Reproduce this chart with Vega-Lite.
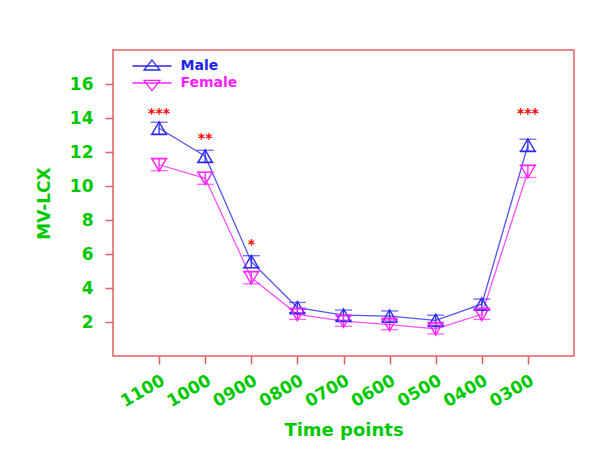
{
  "$schema": "https://vega.github.io/schema/vega-lite/v6.json",
  "autosize": "none",
  "padding": {"left": 113, "top": 50, "right": 39, "bottom": 104},
  "width": 461,
  "height": 306,
  "background": "white",
  "config": {
    "view": {"stroke": "#e06060", "strokeWidth": 1.5},
    "font": "DejaVu Sans"
  },
  "datasets": {
    "main": [
      {"time": "1100", "sex": "Male", "value": 13.4, "err": 0.35},
      {"time": "1000", "sex": "Male", "value": 11.75, "err": 0.35},
      {"time": "0900", "sex": "Male", "value": 5.55, "err": 0.35},
      {"time": "0800", "sex": "Male", "value": 2.85, "err": 0.3},
      {"time": "0700", "sex": "Male", "value": 2.4, "err": 0.3},
      {"time": "0600", "sex": "Male", "value": 2.35, "err": 0.3},
      {"time": "0500", "sex": "Male", "value": 2.1, "err": 0.3},
      {"time": "0400", "sex": "Male", "value": 3.05, "err": 0.3},
      {"time": "0300", "sex": "Male", "value": 12.4, "err": 0.35},
      {"time": "1100", "sex": "Female", "value": 11.25, "err": 0.35},
      {"time": "1000", "sex": "Female", "value": 10.45, "err": 0.35},
      {"time": "0900", "sex": "Female", "value": 4.6, "err": 0.35},
      {"time": "0800", "sex": "Female", "value": 2.45, "err": 0.3},
      {"time": "0700", "sex": "Female", "value": 2.05, "err": 0.3},
      {"time": "0600", "sex": "Female", "value": 1.85, "err": 0.3},
      {"time": "0500", "sex": "Female", "value": 1.6, "err": 0.3},
      {"time": "0400", "sex": "Female", "value": 2.45, "err": 0.3},
      {"time": "0300", "sex": "Female", "value": 10.85, "err": 0.35}
    ],
    "stars": [
      {"time": "1100", "value": 14.4, "label": "***"},
      {"time": "1000", "value": 12.95, "label": "**"},
      {"time": "0900", "value": 6.7, "label": "*"},
      {"time": "0300", "value": 14.4, "label": "***"}
    ]
  },
  "encoding": {
    "x": {
      "field": "time",
      "type": "ordinal",
      "sort": null,
      "scale": {"type": "point", "padding": 1, "domain": ["1100","1000","0900","0800","0700","0600","0500","0400","0300"]},
      "axis": {
        "title": "Time points",
        "titleColor": "#00c800",
        "titleFontSize": 18,
        "titleFontWeight": "bold",
        "titlePadding": 12,
        "labelColor": "#00c800",
        "labelFontSize": 17,
        "labelFontWeight": "bold",
        "labelAngle": -30,
        "labelAlign": "right",
        "labelBaseline": "top",
        "labelPadding": 8,
        "domain": false,
        "grid": false,
        "tickColor": "#e06060",
        "tickSize": 8,
        "tickWidth": 1.5
      }
    },
    "y": {
      "field": "value",
      "type": "quantitative",
      "scale": {"domain": [0, 18], "nice": false},
      "axis": {
        "title": "MV-LCX",
        "titleColor": "#00c800",
        "titleFontSize": 17,
        "titleFontWeight": "bold",
        "titlePadding": 16,
        "labelColor": "#00c800",
        "labelFontSize": 17,
        "labelFontWeight": "bold",
        "labelPadding": 12,
        "values": [2, 4, 6, 8, 10, 12, 14, 16],
        "domain": false,
        "grid": false,
        "tickColor": "#e06060",
        "tickSize": 8,
        "tickWidth": 1.5
      }
    }
  },
  "layer": [
    {
      "data": {"name": "main"},
      "mark": {"type": "line", "strokeWidth": 1.3, "opacity": 0.8},
      "encoding": {
        "color": {
          "field": "sex",
          "type": "nominal",
          "scale": {"domain": ["Male", "Female"], "range": ["#2a2aee", "#ff22ff"]},
          "legend": {
            "orient": "none",
            "legendX": 29.5,
            "legendY": 6.5,
            "title": null,
            "padding": 0,
            "rowPadding": 0,
            "symbolSize": 289,
            "symbolStrokeWidth": 1.3,
            "symbolOpacity": 1,
            "symbolFillColor": "transparent",
            "symbolType": {"expr": "datum.value === 'Male' ? 'M-2.3,0H2.3M0,-0.7L0.94,0.47L-0.94,0.47Z' : 'M-2.3,0H2.3M-0.94,-0.3L0.94,-0.3L0,0.9Z'"},
            "labelOffset": 19,
            "labelFontSize": 14,
            "labelFontWeight": "bold",
            "labelColor": {"expr": "datum.value === 'Male' ? '#2222ee' : '#ff22ff'"}
          }
        }
      }
    },
    {
      "data": {"name": "main"},
      "transform": [{"filter": "datum.sex === 'Male'"}],
      "mark": {"type": "errorbar", "ticks": {"size": 17}, "thickness": 1.3, "color": "#2a2aee"},
      "encoding": {"yError": {"field": "err"}}
    },
    {
      "data": {"name": "main"},
      "transform": [{"filter": "datum.sex === 'Female'"}],
      "mark": {"type": "errorbar", "ticks": {"size": 17}, "thickness": 1.3, "color": "#ff22ff"},
      "encoding": {"yError": {"field": "err"}}
    },
    {
      "data": {"name": "main"},
      "transform": [{"filter": "datum.sex === 'Male'"}],
      "mark": {"type": "point", "shape": "triangle-up", "filled": false, "strokeWidth": 1.4, "size": 210, "opacity": 1, "color": "#2a2aee"}
    },
    {
      "data": {"name": "main"},
      "transform": [{"filter": "datum.sex === 'Female'"}],
      "mark": {"type": "point", "shape": "triangle-down", "filled": false, "strokeWidth": 1.4, "size": 210, "opacity": 1, "color": "#ff22ff"}
    },
    {
      "data": {"name": "stars"},
      "mark": {"type": "text", "color": "#ff0000", "fontSize": 14, "fontWeight": "bold", "baseline": "middle", "dy": 3},
      "encoding": {
        "text": {"field": "label"}
      }
    }
  ]
}
